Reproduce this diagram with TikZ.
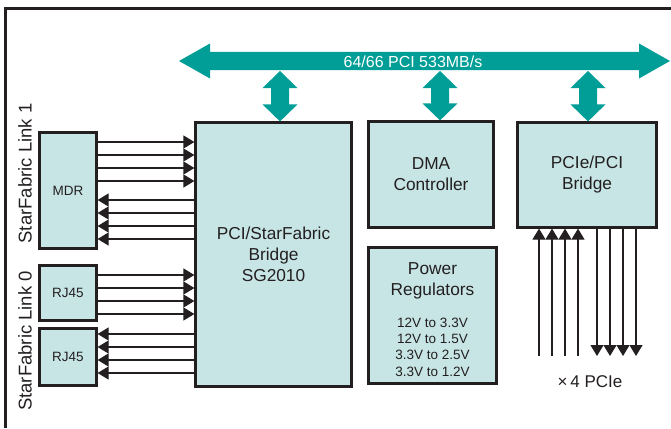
\documentclass[tikz,border=0pt]{standalone}
\usepackage{fontspec}
\setmainfont{Liberation Sans}
\usetikzlibrary{arrows.meta,calc}
\definecolor{busteal}{RGB}{0,158,150}
\definecolor{boxfill}{RGB}{200,229,229}
\definecolor{ink}{RGB}{35,31,32}
\newcommand\ttlfont{\fontsize{17.3}{21}\selectfont}
\newcommand\smlfont{\fontsize{13.5}{16.3}\selectfont}
\newcommand\sidefont{\fontsize{18.5}{22}\selectfont}
% fat two-headed arrow from the bus down to a box
\newcommand\vfat[2]{%
  \path (#1,0 |- #2.north) coordinate (fatend);
  \fill[busteal] (#1,71) -- ++(17.5,17) -- ++(-8.5,0) -- ($(fatend)+(9,-17)$) -- ++(8.5,0) -- (fatend) -- ++(-17.5,-17) -- ++(8.5,0) -- ($(#1,71)+(-9,17)$) -- ++(-8.5,0) -- cycle ;}

\tikzset{every picture/.style={line width=1.2pt}}

\begin{document}
\begin{tikzpicture}[x=1pt,y=1pt,yscale=-1,xscale=1,
	box/.style={draw=ink,fill=boxfill,line width=2.2pt,inner sep=0pt,align=center,text=ink,font=\ttlfont},
	sig/.style={draw=ink,line width=1.2pt,-{Triangle[length=11pt,width=13pt]}},
	lbl/.style={text=ink,align=center}]
	\useasboundingbox (0,0) rectangle (671,428);

	%Frame
	\draw [ink,line width=2.5pt] (5.3,428) -- (5.3,8.7) -- (671,8.7) ;

	%Bus
	\coordinate (busL) at (179,61);
	\coordinate (busR) at (670,61);
	\fill [busteal] (busL) -- ++(31,-17.5) -- ++(0,8.5) -- ($(busR)+(-31,-9)$) -- ++(0,-8.5) -- (busR) -- ++(-31,17.5) -- ++(0,-8.5) -- ($(busL)+(31,9)$) -- ++(0,8.5) -- cycle ;
	% Text Node
	\node [text=white,font=\fontsize{16}{19}\selectfont] (buslbl) at (413,61.5) {64/66 PCI 533MB/s};

	%Shape: Rectangle
	\node [box,minimum width=156pt,minimum height=264pt] (bridge) at (273.5,254.5) {PCI/StarFabric\\Bridge\\SG2010};
	%Shape: Rectangle
	\node [box,minimum width=125pt,minimum height=106pt] (dma) at (431,174.5) {DMA\\Controller};
	%Shape: Rectangle
	\node [box,minimum width=139pt,minimum height=105pt] (pcie) at (587,175) {PCIe/PCI\\Bridge};
	%Shape: Rectangle
	\node [box,minimum width=128pt,minimum height=136pt] (power) at (432.5,315.5) {};
	% Text Node
	\node [lbl,font=\ttlfont] (powttl) at ($(power.north)+(0,34)$) {Power\\Regulators};
	% Text Node
	\node [lbl,font=\smlfont] (powvolts) at ($(power.south)+(0,-37.5)$) {12V to 3.3V\\12V to 1.5V\\3.3V to 2.5V\\3.3V to 1.2V};

	%Shape: Rectangle
	\node [box,font=\smlfont,minimum width=57pt,minimum height=116pt] (mdr) at (68,190.5) {MDR};
	%Shape: Rectangle
	\node [box,font=\smlfont,minimum width=57pt,minimum height=55pt] (rjA) at (68,293) {RJ45};
	%Shape: Rectangle
	\node [box,font=\smlfont,minimum width=57pt,minimum height=57pt] (rjB) at (68,357) {RJ45};

	% Text Node
	\node [lbl,font=\sidefont,rotate=90] (link1) at (25,173.5) {StarFabric Link 1};
	% Text Node
	\node [lbl,font=\sidefont,rotate=90] (link0) at (25,341) {StarFabric Link 0};

	%Fat arrows
	\vfat{280}{bridge}
	\vfat{440}{dma}
	\vfat{588}{pcie}

	%Straight Lines
	\foreach \y in {142,155,168,181} \draw [sig] (mdr.east |- 0,\y) -- (bridge.west |- 0,\y) ;
	\foreach \y in {200,213,226,239} \draw [sig] (bridge.west |- 0,\y) -- (mdr.east |- 0,\y) ;
	\foreach \y in {275,288,301,314} \draw [sig] (rjA.east |- 0,\y) -- (bridge.west |- 0,\y) ;
	\foreach \y in {334,347,360,373} \draw [sig] (bridge.west |- 0,\y) -- (rjB.east |- 0,\y) ;

	\coordinate (pcieend) at (0,356);
	\foreach \x in {539,552,565,578} \draw [sig] (\x,0 |- pcieend) -- (\x,0 |- pcie.south) ;
	\foreach \x in {597,610,623,636} \draw [sig] (\x,0 |- pcie.south) -- (\x,0 |- pcieend) ;
	% Text Node
	\node [lbl,font=\fontsize{17}{20}\selectfont] (pcielbl) at (590,382) {×\,4 PCIe};

\end{tikzpicture}
\end{document}
